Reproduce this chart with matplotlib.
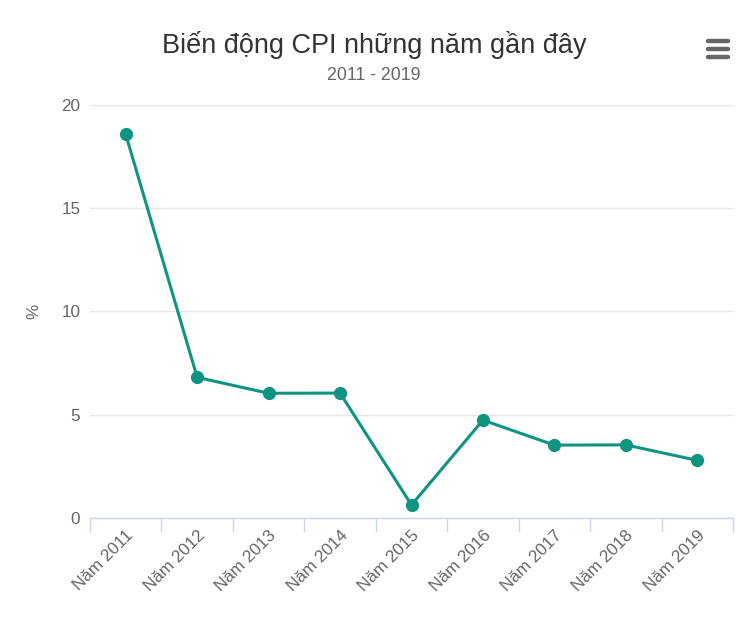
import matplotlib
matplotlib.use("Agg")
import matplotlib.pyplot as plt
from matplotlib.lines import Line2D
import numpy as np

plt.rcParams['font.family'] = ['Liberation Sans', 'DejaVu Sans']

categories = ["Năm 2011", "Năm 2012", "Năm 2013", "Năm 2014", "Năm 2015",
              "Năm 2016", "Năm 2017", "Năm 2018", "Năm 2019"]
cpi = [18.58, 6.81, 6.04, 6.05, 0.63, 4.74, 3.53, 3.54, 2.79]
yticks = [0, 5, 10, 15, 20]

W, H = 749, 629
fig = plt.figure(figsize=(W / 100, H / 100), dpi=100)
ax = fig.add_axes([90 / W, 1 - 518 / H, (733 - 90) / W, (518 - 105) / H])

x = np.arange(len(categories))
color = "#0f9482"
ax.plot(x, cpi, color=color, lw=2.2, marker="o", ms=8.5, zorder=3, clip_on=False)

ax.set_xlim(-0.5, len(categories) - 0.5)
ax.set_ylim(0, 20)
ax.set_yticks(yticks)
ax.set_yticklabels([str(v) for v in yticks], fontsize=12.3, color="#666666")
ax.grid(axis="y", color="#e6e6e6", lw=1)
ax.set_axisbelow(True)
for s in ["top", "right", "left"]:
    ax.spines[s].set_visible(False)
ax.spines["bottom"].set_color("#ccd6eb")
ax.spines["bottom"].set_linewidth(1)
ax.tick_params(axis="y", length=0, pad=7)

# x ticks at category boundaries
ax.set_xticks(np.arange(-0.5, len(categories), 1.0))
ax.set_xticklabels([])
ax.tick_params(axis="x", which="major", length=10, color="#ccd6eb", width=1)
ax.set_xticks(x, minor=True)
ax.set_xticklabels(categories, minor=True, rotation=45, ha="right", va="top",
                   rotation_mode="anchor", fontsize=12.3, color="#666666")
ax.tick_params(axis="x", which="minor", length=0, pad=7)

ax.set_ylabel("%", fontsize=12.3, color="#666666", labelpad=14)

fig.text(374 / W, 1 - 45 / H, "Biến động CPI những năm gần đây", ha="center", va="center",
         fontsize=19.5, color="#333333")
fig.text(374 / W, 1 - 76 / H, "2011 - 2019", ha="center", va="center",
         fontsize=12.8, color="#666666")

# hamburger menu icon
for yy in [41, 49, 57]:
    fig.add_artist(Line2D([708 / W, 728 / W], [1 - yy / H, 1 - yy / H], color="#666666",
                          lw=3.2, solid_capstyle="round", transform=fig.transFigure))

fig.savefig("out.png", dpi=100, facecolor="white")
